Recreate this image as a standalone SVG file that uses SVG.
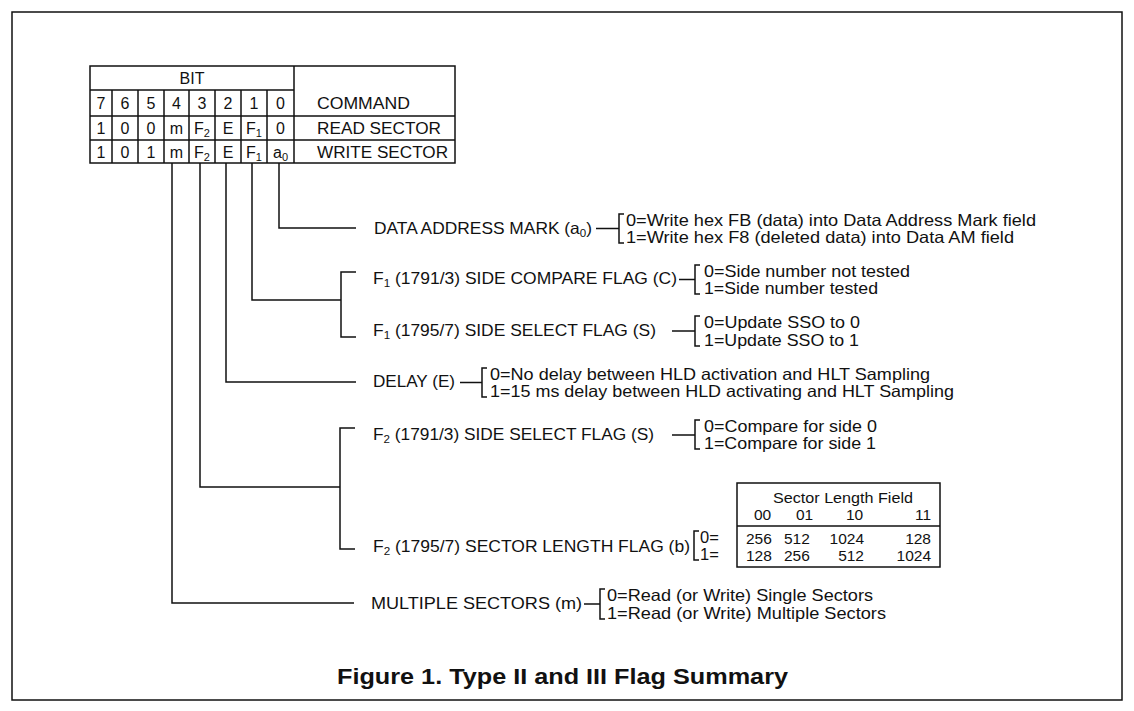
<svg xmlns="http://www.w3.org/2000/svg" width="1134" height="711" viewBox="0 0 1134 711">
<style>
text{font-family:"Liberation Sans",Arial,Helvetica,sans-serif;fill:#111;}
.t{font-size:16px;}
.c{font-size:16px;text-anchor:middle;}
.l{font-size:16.5px;}
.n{font-size:15.5px;}
.s{font-size:11px;}
.cap{font-size:22px;font-weight:bold;}
.ln{fill:none;stroke:#111;stroke-width:1.5;}
</style>
<rect width="1134" height="711" fill="#fff"/>
<rect class="ln" x="12" y="12" width="1110" height="688" stroke-width="2"/>

<g id="bit-table">
<rect class="ln" x="90" y="66" width="365" height="97"/>
<path class="ln" d="M90,90H294M90,116H455M90,140H455M294,66V163M112,90V163M138,90V163M164,90V163M189,90V163M215,90V163M241,90V163M267,90V163"/>
<text class="c" x="192" y="84">BIT</text>
<text class="c" x="101" y="109">7</text><text class="c" x="125" y="109">6</text><text class="c" x="151" y="109">5</text><text class="c" x="176.5" y="109">4</text><text class="c" x="202" y="109">3</text><text class="c" x="228" y="109">2</text><text class="c" x="254" y="109">1</text><text class="c" x="280.5" y="109">0</text>
<text class="t" x="317" y="109" textLength="93" lengthAdjust="spacingAndGlyphs">COMMAND</text>
<text class="c" x="101" y="134">1</text><text class="c" x="125" y="134">0</text><text class="c" x="151" y="134">0</text><text class="c" x="176.5" y="134">m</text><text class="c" x="202" y="134">F<tspan class="s" dy="3">2</tspan></text><text class="c" x="228" y="134">E</text><text class="c" x="254" y="134">F<tspan class="s" dy="3">1</tspan></text><text class="c" x="280.5" y="134">0</text>
<text class="t" x="317" y="134" textLength="124" lengthAdjust="spacingAndGlyphs">READ SECTOR</text>
<text class="c" x="101" y="157.5">1</text><text class="c" x="125" y="157.5">0</text><text class="c" x="151" y="157.5">1</text><text class="c" x="176.5" y="157.5">m</text><text class="c" x="202" y="157.5">F<tspan class="s" dy="3">2</tspan></text><text class="c" x="228" y="157.5">E</text><text class="c" x="254" y="157.5">F<tspan class="s" dy="3">1</tspan></text><text class="c" x="280.5" y="157.5">a<tspan class="s" dy="3">0</tspan></text>
<text class="t" x="317" y="157.5" textLength="131" lengthAdjust="spacingAndGlyphs">WRITE SECTOR</text>
</g>

<g id="connectors">
<path class="ln" d="M279,163V228H356"/>
<path class="ln" d="M252,163V300H341M356,272H341V337H356"/>
<path class="ln" d="M226,163V382H356"/>
<path class="ln" d="M200,163V487H340M355,428H340V549H355"/>
<path class="ln" d="M172,163V603H354"/>
</g>

<g id="data-address-mark">
<text class="l" x="374" y="233.5" textLength="218" lengthAdjust="spacingAndGlyphs">DATA ADDRESS MARK (a<tspan class="s" dy="3">0</tspan><tspan dy="-3">)</tspan></text>
<path class="ln" d="M596,228.5H619M624,214H619V243H624"/>
<text class="l" x="626" y="225.5" textLength="410" lengthAdjust="spacingAndGlyphs">0=Write hex FB (data) into Data Address Mark field</text>
<text class="l" x="626" y="243" textLength="388" lengthAdjust="spacingAndGlyphs">1=Write hex F8 (deleted data) into Data AM field</text>
</g>

<g id="side-compare-flag">
<text class="l" x="373" y="284" textLength="304" lengthAdjust="spacingAndGlyphs">F<tspan class="s" dy="3">1</tspan><tspan dy="-3"> (1791/3) SIDE COMPARE FLAG (C)</tspan></text>
<path class="ln" d="M679,279.5H695M700,265H695V294H700"/>
<text class="l" x="704" y="276.5" textLength="206" lengthAdjust="spacingAndGlyphs">0=Side number not tested</text>
<text class="l" x="704" y="294" textLength="174" lengthAdjust="spacingAndGlyphs">1=Side number tested</text>
</g>

<g id="side-select-flag-1795">
<text class="l" x="373" y="336" textLength="283" lengthAdjust="spacingAndGlyphs">F<tspan class="s" dy="3">1</tspan><tspan dy="-3"> (1795/7) SIDE SELECT FLAG (S)</tspan></text>
<path class="ln" d="M672,331H695M700,316H695V346H700"/>
<text class="l" x="704" y="328" textLength="156" lengthAdjust="spacingAndGlyphs">0=Update SSO to 0</text>
<text class="l" x="704" y="345.5" textLength="155" lengthAdjust="spacingAndGlyphs">1=Update SSO to 1</text>
</g>

<g id="delay">
<text class="l" x="373" y="387" textLength="82" lengthAdjust="spacingAndGlyphs">DELAY (E)</text>
<path class="ln" d="M460,382.5H482M487,368H482V397H487"/>
<text class="l" x="490" y="379.5" textLength="440" lengthAdjust="spacingAndGlyphs">0=No delay between HLD activation and HLT Sampling</text>
<text class="l" x="490" y="397" textLength="464" lengthAdjust="spacingAndGlyphs">1=15 ms delay between HLD activating and HLT Sampling</text>
</g>

<g id="side-select-flag-1791">
<text class="l" x="373" y="440" textLength="281" lengthAdjust="spacingAndGlyphs">F<tspan class="s" dy="3">2</tspan><tspan dy="-3"> (1791/3) SIDE SELECT FLAG (S)</tspan></text>
<path class="ln" d="M672,435H695M700,420H695V449H700"/>
<text class="l" x="704" y="432" textLength="173" lengthAdjust="spacingAndGlyphs">0=Compare for side 0</text>
<text class="l" x="704" y="449" textLength="172" lengthAdjust="spacingAndGlyphs">1=Compare for side 1</text>
</g>

<g id="sector-length-flag">
<text class="l" x="373" y="551.5" textLength="317" lengthAdjust="spacingAndGlyphs">F<tspan class="s" dy="3">2</tspan><tspan dy="-3"> (1795/7) SECTOR LENGTH FLAG (b)</tspan></text>
<path class="ln" d="M699,531H694V560H699"/>
<text class="l" x="700" y="543">0=</text>
<text class="l" x="700" y="560">1=</text>
</g>

<g id="sector-length-table">
<rect class="ln" x="737" y="483" width="203" height="84"/>
<path class="ln" d="M737,526H940"/>
<text class="n" x="843" y="502.5" text-anchor="middle" textLength="140" lengthAdjust="spacingAndGlyphs">Sector Length Field</text>
<text class="n" x="762.5" y="519.5" text-anchor="middle">00</text>
<text class="n" x="804.5" y="519.5" text-anchor="middle">01</text>
<text class="n" x="854.5" y="519.5" text-anchor="middle">10</text>
<text class="n" x="923" y="519.5" text-anchor="middle">11</text>
<text class="n" x="746" y="543.5">256</text>
<text class="n" x="784" y="543.5">512</text>
<text class="n" x="864" y="543.5" text-anchor="end">1024</text>
<text class="n" x="931" y="543.5" text-anchor="end">128</text>
<text class="n" x="746" y="560.5">128</text>
<text class="n" x="784" y="560.5">256</text>
<text class="n" x="864" y="560.5" text-anchor="end">512</text>
<text class="n" x="931" y="560.5" text-anchor="end">1024</text>
</g>

<g id="multiple-sectors">
<text class="l" x="371" y="609" textLength="211" lengthAdjust="spacingAndGlyphs">MULTIPLE SECTORS (m)</text>
<path class="ln" d="M584,604H600M605,589H600V619H605"/>
<text class="l" x="607" y="600.5" textLength="266" lengthAdjust="spacingAndGlyphs">0=Read (or Write) Single Sectors</text>
<text class="l" x="607" y="618.5" textLength="279" lengthAdjust="spacingAndGlyphs">1=Read (or Write) Multiple Sectors</text>
</g>

<g id="caption">
<text class="cap" x="337" y="684" textLength="451" lengthAdjust="spacingAndGlyphs">Figure 1. Type II and III Flag Summary</text>
</g>
</svg>
